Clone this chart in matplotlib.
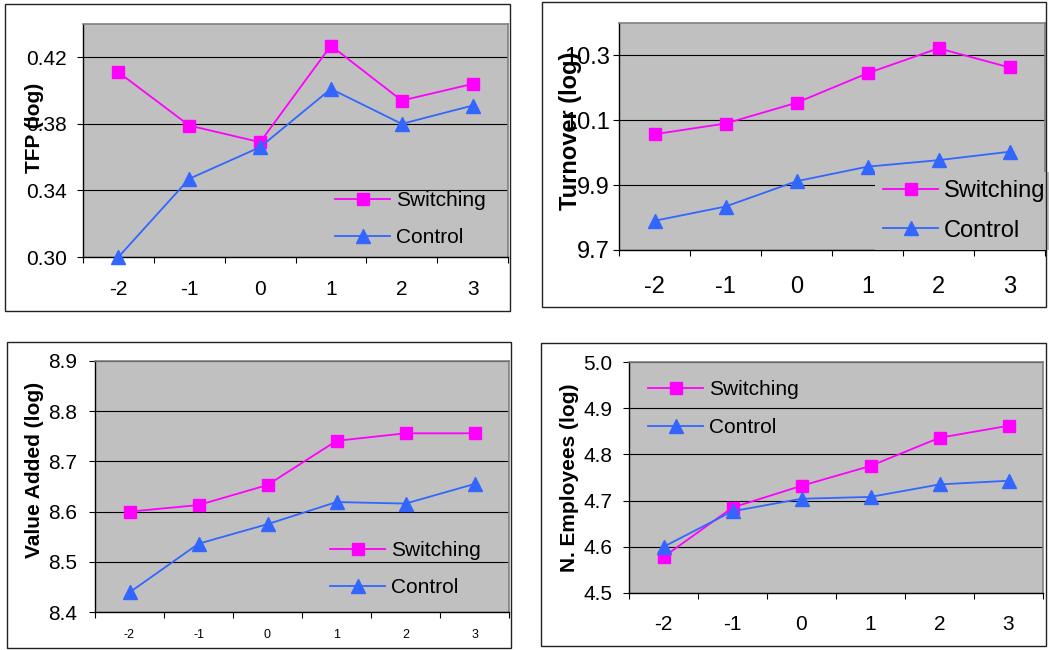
import matplotlib.pyplot as plt
from matplotlib.patches import Rectangle
from matplotlib.ticker import FixedLocator

plt.rcParams['font.family'] = ['Liberation Sans', 'DejaVu Sans']

# event time (years relative to switch)
periods = ["-2", "-1", "0", "1", "2", "3"]

tfp_switching = [0.411, 0.379, 0.369, 0.427, 0.394, 0.404]
tfp_control = [0.300, 0.347, 0.366, 0.401, 0.380, 0.391]

turnover_switching = [10.057, 10.090, 10.154, 10.245, 10.322, 10.263]
turnover_control = [9.790, 9.834, 9.912, 9.957, 9.977, 10.003]

va_switching = [8.600, 8.613, 8.653, 8.741, 8.756, 8.756]
va_control = [8.439, 8.536, 8.575, 8.619, 8.616, 8.655]

emp_switching = [4.578, 4.685, 4.732, 4.775, 4.836, 4.862]
emp_control = [4.600, 4.677, 4.704, 4.708, 4.735, 4.743]

W, H = 1049, 650
MAGENTA = '#FF00FF'
BLUE = '#3366FF'
GRAY = '#C0C0C0'

fig = plt.figure(figsize=(W / 100, H / 100), dpi=100)


def px_box(x0, y0, x1, y1):
    # pixel box (top-left origin) -> figure fraction rect
    return [x0 / W, 1 - y1 / H, (x1 - x0) / W, (y1 - y0) / H]


def panel(rect, frame, sw, ct, ylabel, ylim, yticks, yfmt, fs, xfs, xpad, ypad,
          lab_xy, leg_xy, leg_kw, leg_bg=False):
    # outer chart border
    fx0, fy0, fx1, fy1 = frame
    fig.patches.append(Rectangle((fx0 / W, 1 - fy1 / H), (fx1 - fx0) / W, (fy1 - fy0) / H,
                                 transform=fig.transFigure, fill=False,
                                 edgecolor='#222222', linewidth=1.0))
    ax = fig.add_axes(px_box(*rect))
    ax.set_facecolor(GRAY)
    x = list(range(len(periods)))
    ax.plot(x, sw, color=MAGENTA, marker='s', markersize=8.5, linewidth=1.3,
            label='Switching', clip_on=False, zorder=3)
    ax.plot(x, ct, color=BLUE, marker='^', markersize=9.5, linewidth=1.3,
            label='Control', clip_on=False, zorder=3)
    ax.set_xlim(-0.5, len(periods) - 0.5)
    ax.set_ylim(*ylim)
    ax.set_yticks(yticks)
    ax.set_yticklabels([yfmt.format(v) for v in yticks])
    ax.yaxis.grid(True, color='black', linewidth=0.8)
    ax.set_axisbelow(True)

    ax.set_xticks(x)
    ax.set_xticklabels(periods)
    ax.xaxis.set_minor_locator(FixedLocator([i - 0.5 for i in range(len(periods) + 1)]))
    ax.tick_params(axis='x', which='major', length=0, pad=xpad, labelsize=xfs)
    ax.tick_params(axis='x', which='minor', length=4, width=0.8, direction='out')
    ax.tick_params(axis='y', length=4, width=0.8, direction='out', pad=ypad, labelsize=fs)

    for s in ('left', 'bottom'):
        ax.spines[s].set_color('black')
        ax.spines[s].set_linewidth(1.0)
    for s in ('top', 'right'):
        ax.spines[s].set_color('#808080')
        ax.spines[s].set_linewidth(1.2)

    ax.set_ylabel(ylabel, fontsize=fs, fontweight='bold', va='center', ha='center')
    ax.yaxis.set_label_coords(*lab_xy)

    lx, ly = leg_xy
    leg = ax.legend(loc='upper left', bbox_to_anchor=(lx / W, 1 - ly / H),
                    bbox_transform=fig.transFigure, borderaxespad=0,
                    fontsize=fs, numpoints=1, frameon=leg_bg, fancybox=False,
                    **leg_kw)
    if leg_bg:
        leg.get_frame().set_facecolor(GRAY)
        leg.get_frame().set_edgecolor('none')
        leg.get_frame().set_alpha(1)
    return ax


# TFP
panel((83, 24, 508, 257), (5, 4, 510, 311), tfp_switching, tfp_control,
      'TFP (log)', (0.30, 0.44), [0.30, 0.34, 0.38, 0.42], '{:.2f}',
      15, 15, 16.2, 7.5, (-0.115, 0.554), (335, 191),
      dict(borderpad=0, handlelength=2.64, handletextpad=0.29, labelspacing=0.87))

# Turnover
panel((619, 23, 1045, 250), (542, 2, 1046, 307), turnover_switching, turnover_control,
      'Turnover (log)', (9.7, 10.4), [9.7, 9.9, 10.1, 10.3], '{:.1f}',
      17, 17, 18.4, 2.5, (-0.113, 0.524), (875, 172),
      dict(borderpad=0.35, handlelength=2.33, handletextpad=0.25, labelspacing=0.74),
      leg_bg=True)

# Value added
panel((95, 361, 509, 612), (7, 342, 511, 648), va_switching, va_control,
      'Value Added (log)', (8.4, 8.9), [8.4, 8.5, 8.6, 8.7, 8.8, 8.9], '{:.1f}',
      15, 9, 11.9, 8.7, (-0.147, 0.566), (330, 541),
      dict(borderpad=0, handlelength=2.64, handletextpad=0.29, labelspacing=0.87))

# Employees
panel((629, 362, 1043, 593), (541, 343, 1046, 646), emp_switching, emp_control,
      'N. Employees (log)', (4.5, 5.0), [4.5, 4.6, 4.7, 4.8, 4.9, 5.0], '{:.1f}',
      15, 15, 16.2, 8.2, (-0.144, 0.498), (648, 380),
      dict(borderpad=0, handlelength=2.64, handletextpad=0.29, labelspacing=0.91))

plt.savefig('out.png', dpi=100, facecolor='white')
print("saved out.png")
